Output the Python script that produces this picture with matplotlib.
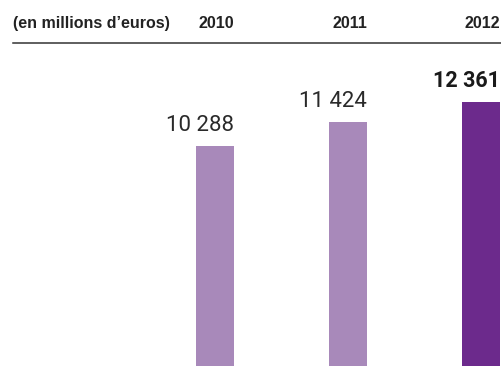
import matplotlib
matplotlib.use("Agg")
import matplotlib.pyplot as plt
from matplotlib.transforms import blended_transform_factory

years = ["2010", "2011", "2012"]
values = [10288, 11424, 12361]
value_labels = ["10 288", "11 424", "12 361"]
unit_label = "(en millions d\u2019euros)"

light = "#A889BA"
dark = "#6C2A8C"
colors = [light, light, dark]

W, H, DPI = 502, 372, 100
fig = plt.figure(figsize=(W / DPI, H / DPI), dpi=DPI)
plt.rcParams["font.family"] = ["Liberation Sans", "DejaVu Sans"]

# Axes fill the width; bar baseline sits 6 px above the bottom edge
ax = fig.add_axes([0, 6 / H, 1, (H - 6) / H])
ax.set_axis_off()

step = 133.0          # px between bar centres
first = 215.0         # px, centre of the first bar
bw = 38 / step        # bar width in category units
ax.set_xlim(-first / step, (W - first) / step)
px_per_unit = 0.02139
ax.set_ylim(0, (H - 6) / px_per_unit)

xs = list(range(len(values)))
ax.bar(xs, values, width=bw, color=colors, linewidth=0)

# value labels, right-aligned on the bar's right edge; latest year in bold
fam = ["Roboto", "Liberation Sans"]
styles = [dict(family=fam, fontweight="normal", fontsize=16, color="#2a2a2a"),
          dict(family=fam, fontweight="normal", fontsize=16, color="#2a2a2a"),
          dict(family=fam, fontweight="bold", fontsize=15.5, color="#1a1a1a")]
for x, v, lab, st in zip(xs, values, value_labels, styles):
    ax.annotate(lab, (x + bw / 2, v), xytext=(0, 10.8), textcoords="offset points",
                ha="right", va="baseline", **st)

# header row: unit + years, with a rule below
hdr_y = 1 - 28.3 / (H - 6)
tr = blended_transform_factory(ax.transData, ax.transAxes)
for x, y in zip(xs, years):
    ax.text(x + bw / 2, hdr_y, y, transform=tr, ha="right", va="baseline",
            fontsize=11.5, fontweight="bold", color="#222222")
fig.text(13 / W, 1 - 28.3 / H, unit_label, ha="left", va="baseline",
         fontsize=11.5, fontweight="bold", color="#222222")
fig.add_artist(plt.Line2D([13 / W, 1], [1 - 42.5 / H, 1 - 42.5 / H],
                          transform=fig.transFigure, color="#333333", linewidth=1.1))

fig.savefig("out.png", dpi=DPI)
